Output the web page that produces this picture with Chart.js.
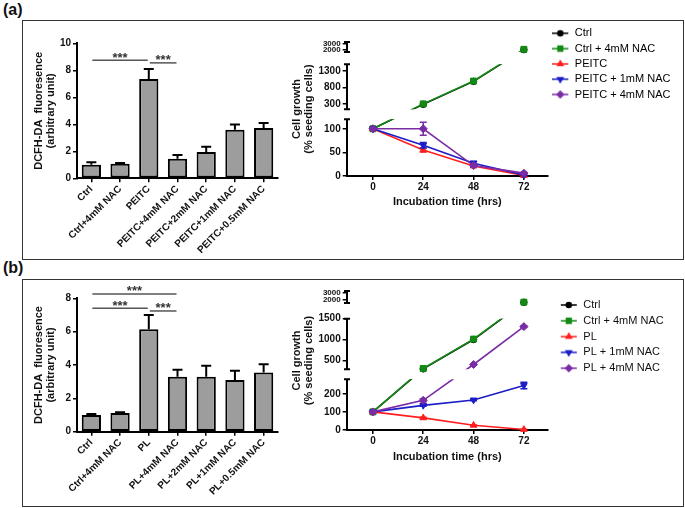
<!DOCTYPE html>
<html>
<head>
<meta charset="utf-8">
<script src="https://cdn.jsdelivr.net/npm/chart.js"></script>
<style>
  html, body { margin: 0; padding: 0; background: #fff; }
  #fig { position: relative; width: 685px; height: 508px; overflow: hidden; font-family: 'Liberation Sans', Arial, sans-serif; }
  .tag { position: absolute; font-weight: bold; font-size: 16px; line-height: 16px; color: #111; }
  .box { position: absolute; box-sizing: border-box; border: 1.5px solid #333; }
  canvas { position: absolute; }
</style>
</head>
<body>
<div id="fig">
  <div class="tag" style="left:3px;top:2px">(a)</div>
  <div class="box" style="left:22px;top:20px;width:662px;height:240px"></div>
  <canvas id="barA" width="262" height="237" style="left:23px;top:21px"></canvas>
  <canvas id="lineA" width="398" height="237" style="left:285px;top:21px"></canvas>

  <div class="tag" style="left:3px;top:260px">(b)</div>
  <div class="box" style="left:22px;top:279px;width:662px;height:228px"></div>
  <canvas id="barB" width="262" height="226" style="left:23px;top:280px"></canvas>
  <canvas id="lineB" width="398" height="226" style="left:285px;top:280px"></canvas>
</div>
<script>
// ---- (a) PEITC: ROS bars ----
const barLabelsA = ['Ctrl', 'Ctrl+4mM NAC', 'PEITC', 'PEITC+4mM NAC', 'PEITC+2mM NAC', 'PEITC+1mM NAC', 'PEITC+0.5mM NAC'];
const barValuesA = [1.0, 1.07, 7.35, 1.45, 1.95, 3.6, 3.72];
const barErrorsA = [0.18, 0.07, 0.75, 0.28, 0.38, 0.38, 0.38];
const barTicksA = [0, 2, 4, 6, 8, 10];
const sigFromA = [0, 2];
const sigToA = [2, 3];
const sigLevelA = [8.75, 8.55];
const sigTextA = ['***', '***'];

// ---- (a) PEITC: cell growth ----
const hours = [0, 24, 48, 72];
const growthNamesA = ['Ctrl', 'Ctrl + 4mM NAC', 'PEITC', 'PEITC + 1mM NAC', 'PEITC + 4mM NAC'];
const ctrlA = [100, 290, 990, 2000];
const ctrlNacA = [100, 305, 1000, 2050];
const peitcA = [100, 55, 21, 1];
const peitc1A = [100, 65, 27, 2];
const peitc4A = [100, 100, 22, 6];
const ctrlErrA = [0, 0, 0, 0];
const ctrlNacErrA = [0, 0, 0, 0];
const peitcErrA = [0, 4, 2, 1];
const peitc1ErrA = [0, 6, 4, 1];
const peitc4ErrA = [0, 14, 3, 2];
const growthTicksA = [0, 50, 100, 300, 800, 1300, 2000, 3000];

// ---- (b) PL: ROS bars ----
const barLabelsB = ['Ctrl', 'Ctrl+4mM NAC', 'PL', 'PL+4mM NAC', 'PL+2mM NAC', 'PL+1mM NAC', 'PL+0.5mM NAC'];
const barValuesB = [1.0, 1.12, 6.15, 3.3, 3.3, 3.1, 3.55];
const barErrorsB = [0.06, 0.05, 0.85, 0.42, 0.65, 0.55, 0.5];
const barTicksB = [0, 2, 4, 6, 8];
const sigFromB = [0, 0, 2];
const sigToB = [3, 2, 3];
const sigLevelB = [8.26, 7.4, 7.24];
const sigTextB = ['***', '***', '***'];

// ---- (b) PL: cell growth ----
const growthNamesB = ['Ctrl', 'Ctrl + 4mM NAC', 'PL', 'PL + 1mM NAC', 'PL + 4mM NAC'];
const ctrlB = [100, 295, 1000, 1700];
const ctrlNacB = [100, 305, 1010, 1720];
const plB = [100, 67, 26, 3];
const pl1B = [100, 136, 166, 246];
const pl4B = [100, 164, 400, 1310];
const ctrlErrB = [0, 0, 0, 0];
const ctrlNacErrB = [0, 0, 0, 0];
const plErrB = [0, 3, 2, 1];
const pl1ErrB = [0, 5, 5, 18];
const pl4ErrB = [0, 8, 10, 20];
const growthTicksB = [0, 100, 200, 500, 1000, 1500, 2000, 3000];

const FONT = "'Liberation Sans', Arial, Helvetica, sans-serif";
Chart.defaults.font.family = FONT;
Chart.defaults.color = '#111';

const seriesColors = ['#000000', '#138a13', '#ff1f1f', '#1c1cc8', '#7a2ca6'];
const seriesStyles = ['circle', 'rect', 'triangle', 'triangle', 'rectRot'];
const seriesRotation = [0, 0, 0, 180, 0];
const seriesRadius = [3.2, 4.2, 3.8, 3.8, 4];

// linear axis with broken (segmented) ranges, like Prism's discontinuous axis
class BrokenScale extends Chart.LinearScale {
  static id = 'broken';
  static defaults = {};

  buildTicks() {
    return (this.options.tickValues || []).map(v => ({ value: v }));
  }

  segs() {
    const mins = this.options.segMin, maxs = this.options.segMax;
    const sizes = this.options.segSize, gaps = this.options.gapSize;
    let total = 0;
    sizes.forEach((s, i) => { total += s + (i < sizes.length - 1 ? gaps[i] : 0); });
    let acc = 0;
    return sizes.map((s, i) => {
      const f0 = acc / total;
      acc += s;
      const f1 = acc / total;
      if (i < sizes.length - 1) acc += gaps[i];
      return { min: mins[i], max: maxs[i], f0, f1 };
    });
  }

  getPixelForValue(value) {
    if (value === null || value === undefined || isNaN(value)) return NaN;
    const segs = this.segs();
    let dec = 0;
    for (let i = 0; i < segs.length; i++) {
      const s = segs[i];
      if (value <= s.max || i === segs.length - 1) {
        if (value >= s.min || i === 0) {
          dec = s.f0 + (value - s.min) / (s.max - s.min) * (s.f1 - s.f0);
        } else {
          const p = segs[i - 1];
          dec = p.f1 + (value - p.max) / (s.min - p.max) * (s.f0 - p.f1);
        }
        break;
      }
    }
    return this.getPixelForDecimal(dec);
  }

  bands() {
    return this.segs().map(s => ({ top: this.getPixelForDecimal(s.f1), bottom: this.getPixelForDecimal(s.f0) }));
  }

  drawBorder() {
    const o = this.options.border;
    if (!o.display) return;
    const ctx = this.ctx;
    const x = this._borderValue !== undefined ? this._borderValue : this.right - 1;
    const cap = 3;
    ctx.save();
    ctx.lineWidth = o.width;
    ctx.strokeStyle = o.color;
    ctx.beginPath();
    this.bands().forEach((b, i) => {
      const bottom = i === 0 ? b.bottom + o.width / 2 : b.bottom;
      ctx.moveTo(x, bottom); ctx.lineTo(x, b.top);
      ctx.moveTo(x - cap, b.top); ctx.lineTo(x + cap, b.top);
      if (i > 0) { ctx.moveTo(x - cap, b.bottom); ctx.lineTo(x + cap, b.bottom); }
    });
    ctx.stroke();
    ctx.restore();
  }
}
Chart.register(BrokenScale);

// error bars (upwards) + significance brackets for the bar panels
function barExtras(errors, from, to, level, text) {
  return {
    id: 'barExtras',
    afterDatasetsDraw(chart) {
      const ctx = chart.ctx, xs = chart.scales.x, ys = chart.scales.y;
      const meta = chart.getDatasetMeta(0);
      const values = chart.data.datasets[0].data;
      ctx.save();
      ctx.strokeStyle = '#000';
      ctx.lineWidth = 2;
      meta.data.forEach((bar, i) => {
        const base = ys.getPixelForValue(values[i]);
        const top = ys.getPixelForValue(values[i] + errors[i]);
        ctx.beginPath();
        ctx.moveTo(bar.x, base); ctx.lineTo(bar.x, top);
        ctx.moveTo(bar.x - 5, top); ctx.lineTo(bar.x + 5, top);
        ctx.stroke();
      });
      ctx.strokeStyle = '#555';
      ctx.lineWidth = 1.5;
      ctx.fillStyle = '#333';
      ctx.font = 'bold 13px ' + FONT;
      ctx.textAlign = 'center';
      ctx.textBaseline = 'alphabetic';
      from.forEach((f, k) => {
        const x1 = xs.getPixelForValue(f), x2 = xs.getPixelForValue(to[k]);
        const y = ys.getPixelForValue(level[k]);
        ctx.beginPath();
        ctx.moveTo(x1 + 1, y); ctx.lineTo(x2 - 1, y);
        ctx.stroke();
        ctx.fillText(text[k], (x1 + x2) / 2, y + 1.5);
      });
      ctx.restore();
    }
  };
}

// lines clipped to the axis segments, then error bars and markers on top
const brokenLines = {
  id: 'brokenLines',
  beforeDatasetDraw(chart, args) {
    const ctx = chart.ctx, meta = args.meta, area = chart.chartArea, ys = chart.scales.y;
    const ds = chart.data.datasets[args.index];
    const bands = ys.bands();
    ctx.save();
    ctx.beginPath();
    bands.forEach((b, i) => {
      const top = b.top - (i === bands.length - 1 ? 5 : 0);
      const bottom = b.bottom + (i === 0 ? 5 : 0);
      ctx.rect(area.left, top, area.width + 6, bottom - top);
    });
    ctx.clip();
    meta.dataset.draw(ctx, area);
    ctx.restore();

    const errs = ds.errors || [];
    ctx.save();
    ctx.strokeStyle = ds.borderColor;
    ctx.lineWidth = 1.5;
    meta.data.forEach((pt, i) => {
      if (!errs[i]) return;
      const v = ds.data[i].y;
      const t = ys.getPixelForValue(v + errs[i]), b = ys.getPixelForValue(v - errs[i]);
      ctx.beginPath();
      ctx.moveTo(pt.x, t); ctx.lineTo(pt.x, b);
      ctx.moveTo(pt.x - 3.5, t); ctx.lineTo(pt.x + 3.5, t);
      ctx.moveTo(pt.x - 3.5, b); ctx.lineTo(pt.x + 3.5, b);
      ctx.stroke();
    });
    ctx.restore();

    const all = { left: -1e4, top: -1e4, right: 1e4, bottom: 1e4 };
    meta.data.forEach(pt => pt.draw(ctx, all));
    return false;
  }
};

// keep the legend column a fixed width so the plot area lines up with the reference
function legendWidth(w) {
  return {
    id: 'legendWidth',
    beforeLayout(chart) {
      const lg = chart.legend;
      if (lg && !lg._fixedWidth) {
        const fit = lg.fit;
        lg.fit = function () { fit.call(this); this.width = w; };
        lg._fixedWidth = true;
      }
    }
  };
}

function legendSymbol(i, lead) {
  const c = document.createElement('canvas');
  c.width = lead + 17;
  c.height = 10;
  const g = c.getContext('2d');
  g.strokeStyle = seriesColors[i];
  g.fillStyle = seriesColors[i];
  g.lineWidth = 1.5;
  g.beginPath();
  g.moveTo(lead, 5); g.lineTo(lead + 16, 5);
  g.stroke();
  if (Chart.helpers && Chart.helpers.drawPoint) {
    Chart.helpers.drawPoint(g, { pointStyle: seriesStyles[i], rotation: seriesRotation[i], radius: seriesRadius[i] * 0.8, borderWidth: 1 }, lead + 8, 5);
  } else {
    g.beginPath(); g.arc(lead + 8, 5, 2.5, 0, Math.PI * 2); g.fill();
  }
  return c;
}

function barChart(id, labels, values, errors, yTicks, sig, padTop, xHeight) {
  return new Chart(document.getElementById(id), {
    type: 'bar',
    data: {
      labels: labels,
      datasets: [{
        data: values,
        backgroundColor: '#9d9d9d',
        borderColor: '#000',
        borderWidth: 2,
        borderSkipped: false,
        barPercentage: 0.67,
        categoryPercentage: 1
      }]
    },
    options: {
      responsive: false,
      animation: false,
      events: [],
      layout: { padding: { left: 0, right: 7, top: padTop, bottom: 0 } },
      plugins: { legend: { display: false }, tooltip: { enabled: false } },
      scales: {
        x: {
          offset: true,
          grid: { drawOnChartArea: false, offset: false, tickLength: 4, color: '#000', lineWidth: 1.5 },
          border: { color: '#000', width: 2 },
          ticks: { font: { size: 10, weight: 'bold' }, color: '#111', minRotation: 45, maxRotation: 45, autoSkip: false, padding: 1 },
          afterFit: s => { s.height = xHeight; }
        },
        y: {
          min: yTicks[0],
          max: yTicks[yTicks.length - 1],
          ticks: { stepSize: yTicks[1] - yTicks[0], font: { size: 10, weight: 'bold' }, color: '#111', padding: 2, callback: v => String(v) },
          grid: { drawOnChartArea: false, tickLength: 4, color: '#000', lineWidth: 1.5 },
          border: { color: '#000', width: 2 },
          title: {
            display: true,
            text: ['DCFH-DA  fluoresence', '(arbitrary unit)'],
            font: { size: 11, weight: 'bold', lineHeight: 1.05 },
            color: '#111',
            padding: { top: 10.5, bottom: 0 }
          },
          afterFit: s => { s.width = 54; }
        }
      }
    },
    plugins: [barExtras(errors, sig[0], sig[1], sig[2], sig[3])]
  });
}

function growthChart(id, names, series, errors, yTicks, seg, lay) {
  const symbols = names.map((n, i) => legendSymbol(i, lay.lead));
  return new Chart(document.getElementById(id), {
    type: 'line',
    data: {
      datasets: series.map((d, i) => ({
        label: names[i],
        data: hours.map((h, k) => ({ x: h, y: d[k] })),
        errors: errors[i],
        borderColor: seriesColors[i],
        backgroundColor: seriesColors[i],
        pointBackgroundColor: seriesColors[i],
        pointBorderColor: seriesColors[i],
        borderWidth: 1.6,
        pointStyle: seriesStyles[i],
        pointRotation: seriesRotation[i],
        pointRadius: seriesRadius[i],
        pointBorderWidth: 1,
        tension: 0,
        clip: false,
        order: -i
      }))
    },
    options: {
      responsive: false,
      animation: false,
      events: [],
      layout: { padding: { left: 0, right: 0, top: lay.padTop, bottom: 0 } },
      plugins: {
        tooltip: { enabled: false },
        title: {
          display: lay.topTitle > 0,
          text: '',
          fullSize: false,
          font: { size: 1, lineHeight: 1 },
          padding: { top: Math.max(lay.topTitle - 1, 0), bottom: 0 }
        },
        legend: {
          display: true,
          position: 'right',
          align: 'start',
          title: {
            display: lay.legendTitle > 0,
            text: '',
            font: { size: 1, lineHeight: 1 },
            padding: { top: Math.max(lay.legendTitle - 1, 0), bottom: 0 }
          },
          labels: {
            usePointStyle: true,
            pointStyleWidth: lay.lead + 17,
            padding: lay.legendPad,
            color: '#111',
            font: { size: 11 },
            generateLabels: chart => chart.data.datasets.map((ds, i) => ({
              text: ds.label,
              pointStyle: symbols[i],
              fillStyle: ds.borderColor,
              strokeStyle: ds.borderColor,
              lineWidth: 0,
              hidden: false,
              datasetIndex: i
            }))
          }
        }
      },
      scales: {
        x: {
          type: 'linear',
          min: -12.5,
          max: 83.5,
          afterBuildTicks: s => { s.ticks = hours.map(v => ({ value: v })); },
          ticks: { font: { size: 10, weight: 'bold' }, color: '#111', padding: 1, maxRotation: 0, autoSkip: false, callback: v => String(v) },
          grid: { drawOnChartArea: false, tickLength: 4, color: '#000', lineWidth: 1.5 },
          border: { color: '#000', width: 2 },
          title: {
            display: true,
            text: 'Incubation time (hrs)',
            font: { size: 11, weight: 'bold', lineHeight: 1.15 },
            color: '#111',
            padding: { top: 0, bottom: lay.xTitlePad }
          },
          afterFit: s => { s.height = lay.xHeight; }
        },
        y: {
          type: 'broken',
          position: 'left',
          min: seg.min[0],
          max: seg.max[seg.max.length - 1],
          segMin: seg.min,
          segMax: seg.max,
          segSize: seg.size,
          gapSize: seg.gap,
          tickValues: yTicks,
          ticks: {
            autoSkip: false,
            padding: 2,
            color: '#111',
            callback: v => String(v),
            font: c => ({ size: c.tick && c.tick.value >= 2000 ? 8 : 10, weight: 'bold' })
          },
          grid: { drawOnChartArea: false, tickLength: 4, color: '#000', lineWidth: 1.5 },
          border: { color: '#000', width: 2 },
          title: {
            display: true,
            text: ['Cell growth', '(% seeding cells)'],
            font: { size: 11, weight: 'bold', lineHeight: 1.09 },
            color: '#111',
            padding: { top: 6, bottom: 0 }
          },
          afterFit: s => { s.width = 61.7; }
        }
      }
    },
    plugins: [brokenLines, legendWidth(135)]
  });
}

barChart('barA', barLabelsA, barValuesA, barErrorsA, barTicksA,
  [sigFromA, sigToA, sigLevelA, sigTextA], 22.3, 79.7);

barChart('barB', barLabelsB, barValuesB, barErrorsB, barTicksB,
  [sigFromB, sigToB, sigLevelB, sigTextB], 18.3, 74.3);

growthChart('lineA', growthNamesA,
  [ctrlA, ctrlNacA, peitcA, peitc1A, peitc4A],
  [ctrlErrA, ctrlNacErrA, peitcErrA, peitc1ErrA, peitc4ErrA],
  growthTicksA,
  { min: [0, 140, 1600], max: [120, 1510, 3300], size: [56.7, 45, 10], gap: [10, 12.3] },
  { padTop: 2.5, topTitle: 18.5, legendTitle: 0, legendPad: 4.3, lead: 0, xHeight: 82, xTitlePad: 50 });

growthChart('lineB', growthNamesB,
  [ctrlB, ctrlNacB, plB, pl1B, pl4B],
  [ctrlErrB, ctrlNacErrB, plErrB, pl1ErrB, pl4ErrB],
  growthTicksB,
  { min: [0, 285, 1600], max: [280, 1500, 3300], size: [50.7, 50.6, 12], gap: [10, 15.7] },
  { padTop: 11, topTitle: 0, legendTitle: 3.7, legendPad: 4.8, lead: 8, xHeight: 76, xTitlePad: 43 });
</script>
</body>
</html>
